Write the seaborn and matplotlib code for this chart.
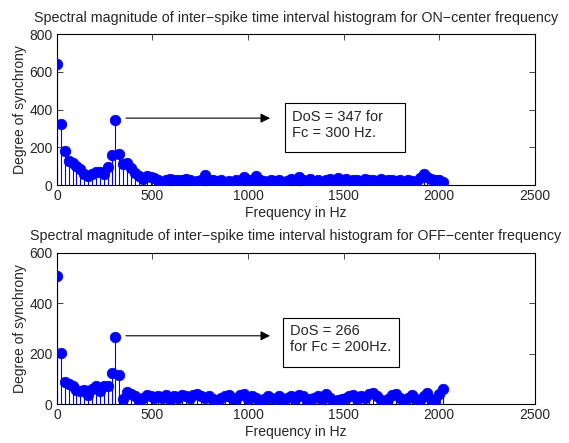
import numpy as np
import pandas as pd
import matplotlib
matplotlib.use("Agg")
import matplotlib.pyplot as plt
from matplotlib.patches import Rectangle
import seaborn as sns

# -------------------------------
# Data
# -------------------------------
bin_step_hz = 20.4  # spacing of the frequency bins

on_center = [640, 325, 180, 130, 115, 100, 85, 60, 50, 60,
             70, 70, 60, 95, 160, 347, 165, 110, 115, 90,
             65, 50, 35, 50, 45, 40, 30, 15, 30, 35,
             25, 25, 30, 35, 25, 15, 20, 30, 55, 30,
             25, 20, 25, 15, 20, 10, 25, 20, 45, 25,
             30, 50, 30, 20, 15, 25, 20, 30, 15, 20,
             35, 25, 45, 30, 20, 35, 15, 30, 10, 25,
             35, 20, 40, 30, 35, 20, 30, 25, 15, 35,
             25, 30, 20, 35, 10, 30, 25, 20, 30, 15,
             25, 20, 10, 40, 60, 45, 35, 30, 25, 15]

off_center = [508, 204, 89, 80, 73, 55, 52, 55, 36, 58,
              71, 50, 70, 70, 124, 266, 115, 19, 49, 40,
              30, 10, 25, 35, 30, 25, 30, 25, 35, 20,
              30, 25, 35, 30, 25, 35, 40, 30, 25, 30,
              20, 10, 25, 30, 35, 25, 20, 35, 40, 20,
              30, 25, 10, 20, 30, 25, 20, 30, 15, 25,
              30, 20, 35, 30, 10, 20, 25, 30, 20, 40,
              25, 10, 15, 20, 25, 30, 35, 20, 30, 25,
              40, 45, 30, 15, 5, 20, 35, 40, 25, 10,
              25, 35, 20, 15, 30, 45, 20, 10, 40, 60]

titles = ["Spectral magnitude of inter\u2212spike time interval histogram for ON\u2212center frequency",
          "Spectral magnitude of inter\u2212spike time interval histogram for OFF\u2212center frequency"]
notes = ["DoS = 347 for\nFc = 300 Hz.", "DoS = 266\nfor Fc = 200Hz."]
y_max = [800, 600]
y_ticks = [[0, 200, 400, 600, 800], [0, 200, 400, 600]]
peak_idx = 15

# annotation layout (data units): box x0, x1, y0, y1, text x, text y, arrow y
box_layout = [(1194, 1822, 175, 434, 1230, 317, 355),
              (1182, 1787, 148, 340, 1220, 258, 271)]

# -------------------------------
# Style
# -------------------------------
sns.set_style("ticks", {"xtick.direction": "in", "ytick.direction": "in"})
plt.rcParams["font.family"] = ["Liberation Sans", "DejaVu Sans"]
plt.rcParams["font.size"] = 10

fig = plt.figure(figsize=(5.69, 4.43), dpi=100)
ax_top = fig.add_axes([0.100, 0.582, 0.840, 0.341])
ax_bot = fig.add_axes([0.100, 0.088, 0.840, 0.341])

blue = "#0000ff"

for ax, vals, title, note, ymax, yt, lay in zip([ax_top, ax_bot], [on_center, off_center],
                                                  titles, notes, y_max, y_ticks, box_layout):
    df = pd.DataFrame({"freq": np.arange(len(vals)) * bin_step_hz, "dos": vals})
    # stems
    ax.vlines(df["freq"], 0, df["dos"], color=blue, linewidth=0.8, zorder=2)
    # heads
    sns.scatterplot(data=df, x="freq", y="dos", ax=ax, color=blue, s=58,
                    edgecolor=blue, linewidth=0.5, zorder=3, legend=False)

    ax.set_xlim(0, 2500)
    ax.set_ylim(0, ymax)
    ax.set_xticks([0, 500, 1000, 1500, 2000, 2500])
    ax.set_yticks(yt)
    ax.tick_params(top=True, right=True, length=4, width=0.6, labelsize=10, pad=3)
    for sp in ax.spines.values():
        sp.set_visible(True)
        sp.set_linewidth(0.8)
        sp.set_color("black")
    ax.set_xlabel("Frequency in Hz", fontsize=10, labelpad=2)
    ax.set_ylabel("Degree of synchrony", fontsize=10, labelpad=2)
    ax.set_title(title, fontsize=10.3, pad=9)

    # arrow from the peak to the annotation box
    x0, x1, y0, y1, tx, ty, ya = lay
    peak_f = peak_idx * bin_step_hz
    ax.annotate("", xy=(1115, ya), xytext=(peak_f + 55, ya),
                arrowprops=dict(arrowstyle="-|>", color="black", lw=0.8,
                                mutation_scale=14, shrinkA=0, shrinkB=0))
    ax.add_patch(Rectangle((x0, y0), x1 - x0, y1 - y0, facecolor="white",
                           edgecolor="black", linewidth=0.8, zorder=4))
    ax.text(tx, ty, note, fontsize=10.5, va="center", ha="left", linespacing=1.2,
            zorder=5)

fig.savefig("out.png", dpi=100)
